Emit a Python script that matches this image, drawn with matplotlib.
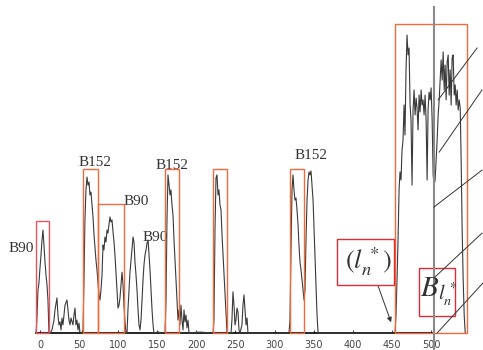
import matplotlib
matplotlib.use("Agg")
import matplotlib.pyplot as plt
from matplotlib.patches import Rectangle

plt.rcParams['mathtext.fontset'] = 'stix'

# signal (x = position, y = amplitude)
signal_x = [-5, -4, -2.6, -1.3, 0, 1.3, 2.6, 3.8, 5.1, 6.4, 7.7, 9, 10.2, 11.5,
            13, 15.3, 17.9, 19.2, 21.7, 23, 24.3, 25.6, 26.9, 28.1, 29.4, 30.7, 32, 34.5,
            35.8, 37.1, 38.4, 39.6, 42.2, 43.5, 44.8, 46, 47.3, 48.6, 49.9, 51.2, 53.7,
            55, 56.3, 57.5, 58.8, 60.1, 61.4, 62.7, 63.9, 65.2, 66.5, 67.8, 69.1, 70.3,
            71.6, 72.9, 74.2, 75.5, 76.7, 78, 79.3, 80.6, 81.8, 83.1, 84.4, 85.7, 86.9,
            88.2, 89.5, 90.8, 92.1, 93.4, 94.7, 95.9, 97.2, 98.5, 99.8, 101.1, 102.3,
            103.6, 104.9, 106.2, 107.4, 108.7, 110,
            111.3, 112.5, 113.8, 115.1, 116.4, 117.7, 119, 120.2, 121.5, 122.8, 124.1,
            125.4, 126.6, 127.9, 129.2, 130.5, 131.8, 133, 134.3, 135.6, 136.9, 138.2,
            139.4, 140.7, 142, 143.3, 144.6, 145.8, 151, 157.3,
            159.9, 161.2, 162.4, 163.7, 165, 166.3, 167.5, 168.8, 170.1, 171.4, 172.7,
            173.9, 175.2, 176.5, 177.8, 179, 180.3, 181.6, 182.9, 184.2, 185.4, 186.7,
            188, 189.3, 190.6, 204.6, 221.3,
            222.5, 223.8, 225.1, 226.4, 227.7, 228.9, 230.2, 231.5, 232.8, 234.1, 235.4,
            236.6, 237.9, 239.2, 244.3, 245.5, 246.8, 248.1, 249.4, 250.6, 251.9, 253.2,
            254.5, 255.8, 258.3, 259.6, 260.9, 262.2, 263.5, 264.8, 266, 294.1, 318.4,
            319.7, 321, 322.3, 323.6, 324.8, 326.1, 327.4, 328.7, 330, 331.2, 332.5,
            333.8, 335.1, 336.4, 337.7, 338.9, 340.2, 341.5, 342.8, 344.1, 345.3, 346.6,
            347.9, 349.2, 350.5, 351.8, 353, 354.3, 355.6, 370.8, 454,
            455.3, 456.6, 457.9, 459.2, 460.4, 461.7, 463, 464.3, 465.6, 466.8, 468.1,
            469.4, 470.7, 472, 473.3, 474.5, 475.8, 477.1, 478.4, 479.7, 481, 482.2,
            483.5, 484.8, 486.1, 487.4, 488.6, 489.9, 491.2, 492.5, 493.8, 495.1, 496.3,
            497.6, 498.9, 500.2, 501.5, 502.8, 504, 505.3, 506.6, 507.9, 509.2, 510.5,
            511.7, 513, 514.3, 515.6, 516.9, 518.1, 519.4, 520.7, 522, 523.3, 524.6,
            525.8, 527.1, 528.4, 529.7, 531, 532.2, 533.5, 534.8, 536.1, 537.4, 538.6,
            539.9, 541.2, 542.5, 543.8]
signal_y = [0, 4.3, 14.3, 16.7, 21.7, 26, 31, 34.3, 29.3, 23.7, 19.3, 16, 11, 0,
            0, 1, 4.3, 7.7, 11.7, 6, 2.7, 3.7, 1, 5, 2.7, 6, 9.3, 11,
            7.7, 4.3, 2.7, 5, 2.7, 6, 8.3, 2.7, 4.3, 1, 3.3, 0, 0,
            1, 17.7, 37.7, 47.7, 52, 49.3, 50.3, 46, 47, 42.7, 38.7, 32.7, 28.7,
            24.3, 21, 17, 12.7, 11, 14.3, 19.3, 29.3, 27.7, 32, 30.3, 34.3, 33.3,
            36, 38.7, 37, 37.7, 33.7, 30.3, 26, 20.3, 14.3, 8.3, 9.3, 11.7,
            16, 20.3, 16, 9.3, 3.7, 0,
            0, 7.7, 14.3, 20.3, 24.3, 28.3, 32, 30.3, 23.7, 19.3, 14.3,
            7.7, 2.7, 1, 4.3, 11, 17.7, 22.7, 26, 27.7, 30, 31,
            26, 21, 14.3, 7.7, 2.7, 0, 0.3, 0,
            0, 11, 37.7, 52.7, 49.3, 46, 47.7, 42.7, 39.3, 31, 24.3,
            17.7, 11, 4.3, 7.7, 2.7, 9.3, 4.3, 1, 7.7, 3.7, 6,
            1.7, 4.3, 0, 0.3, 0,
            4.3, 34.3, 51.7, 52.7, 46, 47.7, 42.7, 41, 32.7, 26, 19.3,
            12.7, 6, 0, 0, 4.3, 13.7, 9.3, 2.7, 4.3, 8.3, 7,
            1, 0, 2.7, 9.3, 12.7, 7.7, 2.7, 5, 0, 0, 0,
            4.3, 27.7, 47.7, 52.7, 47.7, 44.3, 45, 41, 36, 29.3, 23.7,
            21, 17.7, 14.3, 11, 14.3, 31, 44.3, 51, 53.7, 52.7, 54,
            49.3, 44.3, 34.3, 24.3, 14.3, 6, 0, 0, 0,
            6, 17.7, 31, 47.7, 53.7, 51, 61, 64.3, 76, 66, 87.7,
            99.3, 92.7, 95, 76, 71, 49.3, 74.3, 81, 72.7, 78.3, 75,
            67.7, 79.3, 73.7, 81, 76, 77.7, 72.7, 79.3, 71, 51, 74.3,
            80.3, 77.7, 81.7, 71, 52.7, 49.3, 51, 57.7, 64.3, 72.7, 77.7,
            84.3, 91, 84.3, 93.7, 81, 89.3, 77.7, 90.3, 92.7, 79.3, 87.7,
            76, 91.7, 92.7, 79.3, 82.7, 76, 81, 74.3, 77.7, 75, 57.7,
            34.3, 17.7, 6, 0]

# marked windows: (x0, x1, height, colour)
boxes = [(-5.1, 11.5, 37.3, '#e85560'),
         (55, 74.2, 54.7, '#f26a3c'),
         (74.2, 107.4, 43, '#f26a3c'),
         (159.9, 177.8, 54.7, '#f26a3c'),
         (221.3, 239.2, 54.7, '#f26a3c'),
         (319.7, 337.7, 54.7, '#f26a3c'),
         (454, 546.1, 103, '#f26a3c')]

peak_labels = ['B90', 'B152', 'B90', 'B90', 'B152', 'B152']
label_x = [-24.3, 70.3, 122.8, 147.1, 168.8, 346.6]
label_y = [28.3, 57, 43.7, 32, 55.7, 59.3]

# leader lines on the right side: (x0, y0, x1, y1)
leaders = [(509.2, 77.7, 559, 95),
           (510.5, 60.3, 565.3, 81),
           (503.9, 42, 565.3, 54.3),
           (505.3, 18.7, 565.3, 33.3),
           (507.9, 0, 566.6, 16.7)]

fig = plt.figure(figsize=(4.83, 3.5), dpi=100)
ax = fig.add_axes([0.0504, 0.04857, 0.939, 0.95143])
ax.set_xlim(-20, 560)
ax.set_ylim(0, 111)

ax.plot(signal_x, signal_y, color='#3a3a3a', lw=0.8, clip_on=False, zorder=3)

for x0, x1, h, c in boxes:
    ax.add_patch(Rectangle((x0, 0), x1 - x0, h, fill=False, ec=c, lw=1.0,
                           clip_on=False, zorder=4))

for t, lx, ly in zip(peak_labels, label_x, label_y):
    ax.text(lx, ly, t, fontsize=11, family='Liberation Serif', color='#333333',
            ha='center', va='center')

# vertical marker line
ax.plot([503.9, 503.9], [108.7, -6], color='#8a8a8a', lw=1.5, clip_on=False, zorder=5)

for x0, y0, x1, y1 in leaders:
    ax.plot([x0, x1], [y0, y1], color='#333333', lw=0.7, clip_on=False, zorder=6)

# annotation boxes
ax.add_patch(Rectangle((379.9, 16), 72.9, 15.3, fill=False, ec='#e02a35', lw=1.0,
                       clip_on=False, zorder=4))
ax.text(419.5, 23.7, r'$(l_n^{\,*})$', fontsize=19, color='#333333',
        ha='center', va='center')
ax.add_patch(Rectangle((484.7, 5.7), 46.1, 16, fill=False, ec='#e02a35', lw=1.0,
                       clip_on=False, zorder=4))
ax.text(486.5, 12, r'$B_{l_n^{\,*}}$', fontsize=21, color='#333333',
        ha='left', va='baseline', zorder=7)

ax.annotate('', xy=(450.2, 2.7), xytext=(431, 16.7),
            arrowprops=dict(arrowstyle='-|>', color='#333333', lw=0.7,
                            mutation_scale=7))

for s in ['top', 'right', 'left']:
    ax.spines[s].set_visible(False)
ax.spines['bottom'].set_bounds(-5, 501)
ax.spines['bottom'].set_linewidth(1.2)
ax.set_yticks([])
ax.set_xticks(range(0, 501, 50))
ax.tick_params(axis='x', direction='in', length=2, pad=5, labelsize=7,
               labelcolor='#444444', color='#444444')

fig.savefig('out.png', dpi=100)
